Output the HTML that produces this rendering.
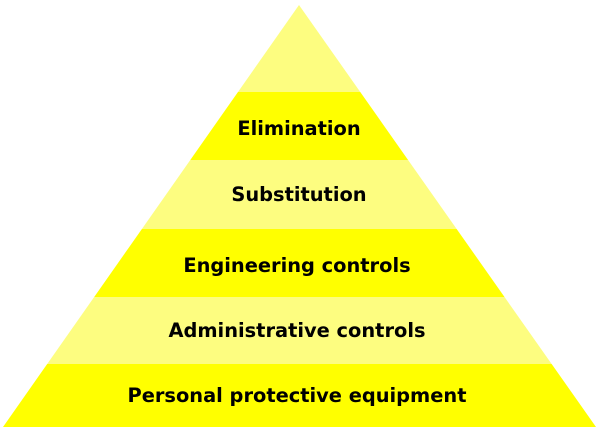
<!DOCTYPE html>
<html><head><meta charset="utf-8"><style>
html,body{margin:0;padding:0;background:#fff;width:600px;height:433px;overflow:hidden}
text{font-family:"DejaVu Sans","Liberation Sans",sans-serif;font-weight:bold;font-size:19.4px;fill:#000}
</style></head><body>
<svg width="600" height="433" viewBox="0 0 600 433" xmlns="http://www.w3.org/2000/svg">
<defs><clipPath id="c"><polygon points="299,5 596,427 3,427"/></clipPath></defs>
<g clip-path="url(#c)">
<rect x="0" y="0" width="600" height="92" fill="#fdfd80"/>
<rect x="0" y="92" width="600" height="68" fill="#ffff00"/>
<rect x="0" y="160" width="600" height="69" fill="#fdfd80"/>
<rect x="0" y="229" width="600" height="68" fill="#ffff00"/>
<rect x="0" y="297" width="600" height="67" fill="#fdfd80"/>
<rect x="0" y="364" width="600" height="63" fill="#ffff00"/>
</g>
<g text-anchor="middle">
<text x="299" y="135">Elimination</text>
<text x="299" y="201">Substitution</text>
<text x="297" y="272">Engineering controls</text>
<text x="297" y="337">Administrative controls</text>
<text x="297" y="402">Personal protective equipment</text>
</g>
</svg>
</body></html>
